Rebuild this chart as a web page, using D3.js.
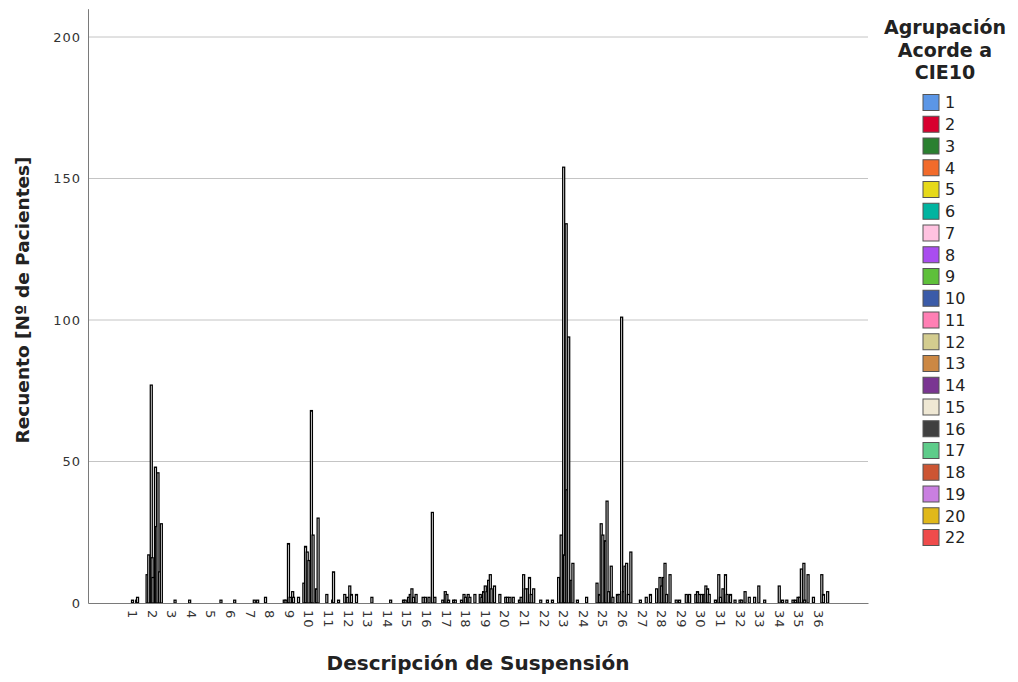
<!DOCTYPE html>
<html>
<head>
<meta charset="utf-8">
<script src="https://cdn.jsdelivr.net/npm/d3@7"></script>
<style>
  body { margin: 0; background: #fff; }
  svg { display: block; }
  text { font-family: "DejaVu Sans", "Noto Sans", sans-serif; }
</style>
</head>
<body>
<svg id="chart" width="1018" height="682"></svg>
<script>
// Suspension description codes on the x axis
const categories = ["1","2","3","4","5","6","7","8","9","10","11","12","13","14","15","16","17","18",
  "19","20","21","22","23","24","25","26","27","28","29","30","31","32","33","34","35","36"];

// ICD-10 groupings (cluster members)
const groups = ["1","2","3","4","5","6","7","8","9","10","11","12","13","14","15","16","17","18","19","20","22"];

const groupColors = ["#5b96e6","#d8002f","#2a8030","#f26b2b","#e6d91a","#00b4a0","#ffc2e0","#a94def",
  "#5ec03a","#3b5ba8","#ff7fb4","#d3cc8f","#cc8844","#7a3592","#efe8d4","#404040","#5ecc8a",
  "#cc5533","#c97fe0","#e0b81a","#ef4b4b"];

// Patient counts: one row per suspension code, one column per ICD-10 grouping
const counts = [
  [0,0,0,0,0,0,0,1,0,0,0,0,1,2,0,0,0,0,0,0,0],
  [0,10,0,17,0,0,77,16,9,0,0,48,27,0,46,0,11,0,28,0,0],
  [0,0,0,0,0,0,0,0,0,0,0,1,0,0,0,0,0,0,0,0,0],
  [0,0,0,0,0,1,0,0,0,0,0,0,0,0,0,0,0,0,0,0,0],
  [0,0,0,0,0,0,0,0,0,0,0,0,0,0,0,0,0,0,0,1,0],
  [0,0,0,0,0,0,0,0,0,0,0,0,1,0,0,0,0,0,0,0,0],
  [0,0,0,0,0,0,0,0,0,0,0,0,1,0,0,0,1,0,0,0,0],
  [0,0,2,0,0,0,0,0,0,0,0,0,0,0,0,0,0,0,0,0,0],
  [0,1,0,1,0,0,21,0,2,0,0,4,2,0,0,0,0,0,2,0,0],
  [0,7,0,20,0,18,0,15,0,0,68,0,24,0,0,0,5,0,30,0,0],
  [0,0,0,0,0,3,0,0,0,0,0,0,1,11,0,0,0,0,0,1,0],
  [0,0,0,3,0,0,2,0,0,6,0,3,0,0,0,0,0,3,0,0,0],
  [0,0,0,0,0,0,0,0,0,0,0,0,2,0,0,0,0,0,0,0,0],
  [0,0,0,0,0,0,0,0,0,0,0,1,0,0,0,0,0,0,0,0,0],
  [0,0,0,1,0,1,0,0,0,2,0,3,0,5,0,2,0,0,3,0,0],
  [0,0,0,2,0,0,2,0,0,0,2,0,0,0,32,0,0,2,0,0,0],
  [0,0,0,1,0,0,4,0,3,0,1,0,0,0,0,0,1,0,1,0,0],
  [0,0,1,0,0,3,0,2,0,0,3,0,2,0,0,0,0,0,3,0,0],
  [0,3,0,2,0,4,0,6,0,4,0,8,0,10,5,0,0,0,6,0,0],
  [0,3,0,0,0,0,0,0,2,0,2,0,0,2,0,0,0,2,0,0,0],
  [0,1,0,2,0,0,10,0,5,0,0,5,0,9,0,3,0,0,5,0,0],
  [0,0,0,1,0,0,0,0,0,0,0,1,0,0,0,0,0,1,0,0,0],
  [0,9,0,0,24,0,0,154,17,0,134,40,0,94,0,0,8,0,14,0,0],
  [1,0,0,0,0,0,0,0,0,0,0,2,0,0,0,0,0,0,0,0,0],
  [7,0,0,3,0,28,0,24,0,0,22,0,36,0,4,0,0,13,0,2,0],
  [0,3,0,3,0,0,101,0,4,0,13,0,14,0,3,0,0,18,0,0,0],
  [0,0,0,0,0,1,0,0,0,0,0,0,2,0,0,0,0,3,0,0,0],
  [0,5,0,0,0,9,0,6,0,9,0,14,0,3,0,0,0,10,0,0,0],
  [0,1,0,0,0,1,0,0,0,0,0,0,0,3,0,0,0,3,0,0,0],
  [0,3,0,4,0,3,0,0,3,0,0,3,0,6,0,5,0,3,0,0,0],
  [0,1,0,0,0,10,0,2,0,0,5,0,0,10,0,3,0,0,0,3,0],
  [0,1,0,0,0,0,0,1,0,1,0,0,0,4,0,0,0,0,2,0,0],
  [0,2,0,0,0,0,6,0,0,0,0,0,0,1,0,0,0,0,0,0,0],
  [0,0,0,0,0,0,0,6,0,0,0,1,0,0,0,0,1,0,0,0,0],
  [1,0,0,1,0,0,2,0,2,0,12,0,0,14,1,0,0,0,10,0,0],
  [0,2,0,0,0,0,0,0,0,0,0,10,0,3,0,0,0,0,4,0,0]
];

const yTicks = [0, 50, 100, 150, 200];

const svg = d3.select("#chart");
const plot = { left: 88, right: 868, top: 8.7, bottom: 603 };

const x = d3.scaleBand()
  .domain(categories)
  .range([plot.left, plot.right])
  .paddingInner(0)
  .paddingOuter(1.9);

const xGroup = d3.scaleBand()
  .domain(groups)
  .range([0, x.bandwidth()])
  .paddingOuter(1.2);

const y = d3.scaleLinear()
  .domain([0, 210])
  .range([plot.bottom, plot.top]);

// horizontal gridlines
svg.append("g")
  .selectAll("line")
  .data(yTicks.filter(d => d > 0))
  .join("line")
  .attr("x1", plot.left).attr("x2", plot.right)
  .attr("y1", d => y(d)).attr("y2", d => y(d))
  .attr("stroke", "#c4c4c4").attr("stroke-width", 1);

// flatten counts into bar records
const bars = [];
counts.forEach((row, i) => {
  row.forEach((v, j) => {
    if (v > 0) bars.push({ cat: categories[i], group: groups[j], value: v, color: groupColors[j] });
  });
});

const barW = 2.0;
svg.append("g")
  .selectAll("rect")
  .data(bars)
  .join("rect")
  .attr("x", d => x(d.cat) + xGroup(d.group) + xGroup.bandwidth() / 2 - barW / 2)
  .attr("width", barW)
  .attr("y", d => y(d.value))
  .attr("height", d => y(0) - y(d.value))
  .attr("fill", "#f4f4f4")
  .attr("stroke", "#000")
  .attr("stroke-width", 1.25);

// y axis
const yAxis = svg.append("g")
  .attr("transform", `translate(${plot.left},0)`)
  .call(d3.axisLeft(y).tickValues(yTicks).tickSize(0).tickPadding(7));
yAxis.select(".domain").attr("stroke", "#7a7a7a");
yAxis.selectAll("text")
  .attr("font-size", 13)
  .attr("letter-spacing", 1)
  .attr("fill", "#333");

// x axis
const xAxis = svg.append("g")
  .attr("transform", `translate(0,${plot.bottom})`)
  .call(d3.axisBottom(x).tickSize(0).tickSizeOuter(0));
xAxis.select(".domain").attr("stroke", "#7a7a7a");
xAxis.selectAll("text")
  .attr("font-size", 13)
  .attr("letter-spacing", 1)
  .attr("fill", "#333")
  .attr("text-anchor", "start")
  .attr("dy", 0)
  .attr("x", 7)
  .attr("y", 7)
  .attr("transform", "rotate(90)");

// axis titles
svg.append("text")
  .attr("x", 478).attr("y", 670)
  .attr("text-anchor", "middle")
  .attr("font-size", 20).attr("font-weight", "bold")
  .attr("fill", "#222")
  .text("Descripción de Suspensión");

svg.append("text")
  .attr("transform", "translate(29,300) rotate(-90)")
  .attr("text-anchor", "middle")
  .attr("font-size", 18.5).attr("font-weight", "bold")
  .attr("fill", "#222")
  .text("Recuento [Nº de Pacientes]");

// legend
const legend = svg.append("g");
legend.selectAll("text.title")
  .data(["Agrupación", "Acorde a", "CIE10"])
  .join("text")
  .attr("class", "title")
  .attr("x", 945)
  .attr("y", (d, i) => 34 + i * 22.5)
  .attr("text-anchor", "middle")
  .attr("font-size", 19).attr("font-weight", "bold")
  .attr("fill", "#222")
  .text(d => d);

const item = legend.selectAll("g.item")
  .data(groups)
  .join("g")
  .attr("class", "item")
  .attr("transform", (d, i) => `translate(923,${94.5 + i * 21.75})`);
item.append("rect")
  .attr("width", 16).attr("height", 16)
  .attr("fill", (d, i) => groupColors[i])
  .attr("stroke", "#555").attr("stroke-width", 1);
item.append("text")
  .attr("x", 22).attr("y", 8)
  .attr("dy", "0.36em")
  .attr("font-size", 16)
  .attr("fill", "#222")
  .text(d => d);
</script>
</body>
</html>
